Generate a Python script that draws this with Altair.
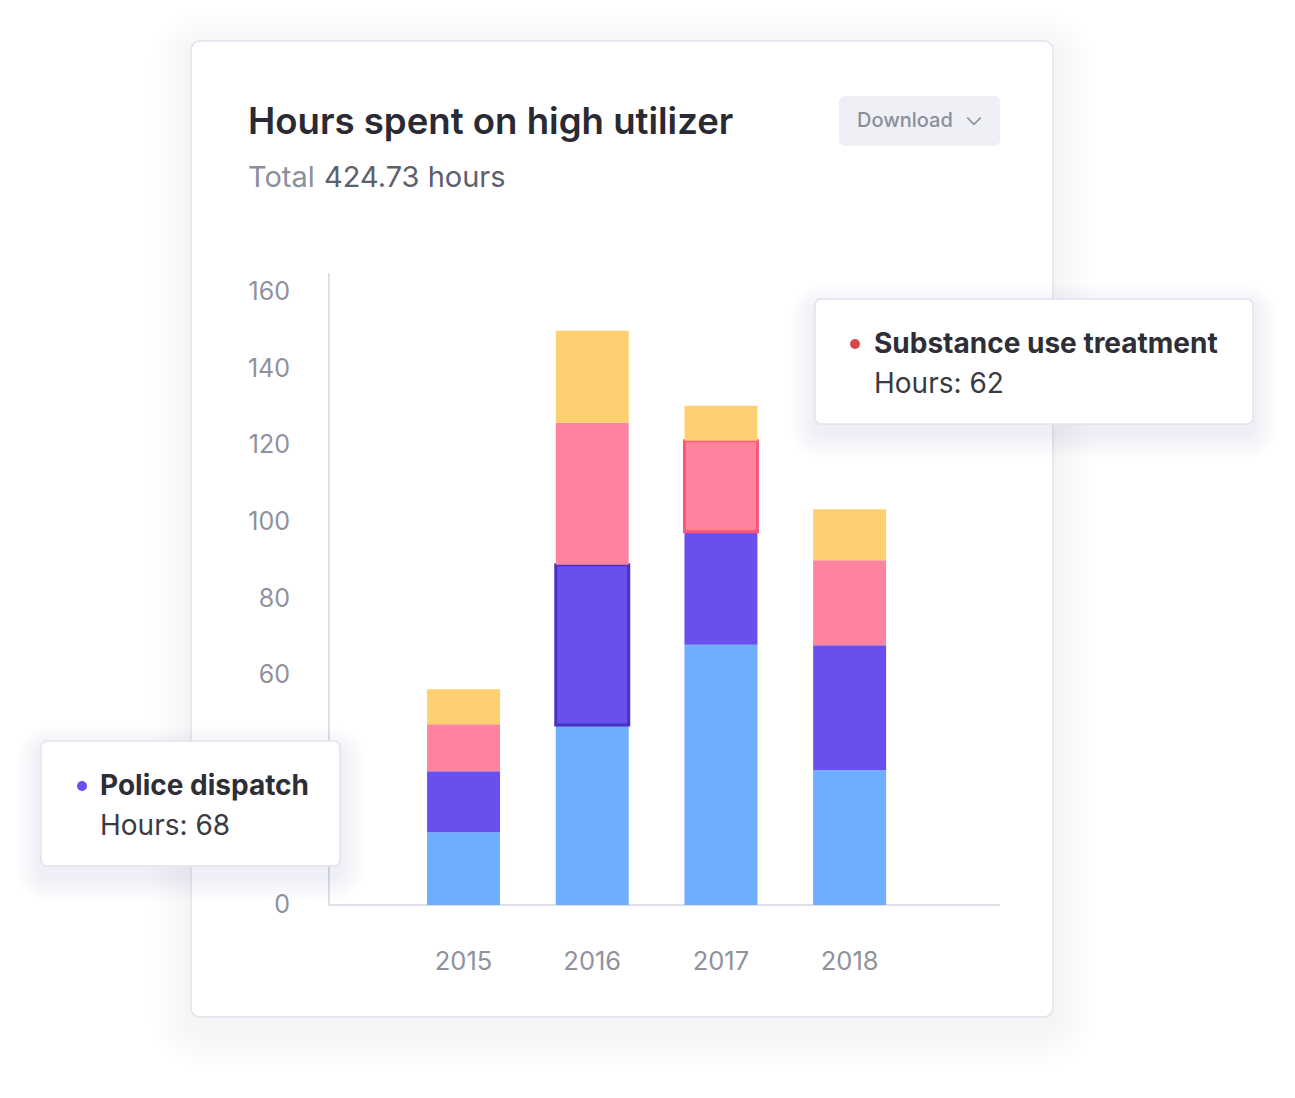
import altair as alt
import pandas as pd

# ---------------- data ----------------
years = ["2015", "2016", "2017", "2018"]
series = ["Emergency medical services", "Police dispatch",
          "Substance use treatment", "Mental health services"]
blue_vals = [19.0, 47.0, 67.9, 35.2]
purple_vals = [15.9, 41.8, 29.5, 32.6]
pink_vals = [12.3, 37.1, 23.8, 22.2]
yellow_vals = [9.1, 24.0, 9.1, 13.3]
highlighted = [("2016", "Police dispatch"), ("2017", "Substance use treatment")]
y_ticks = [0, 20, 40, 60, 80, 100, 120, 140, 160]

title_text = "Hours spent on high utilizer"
subtitle_label = "Total"
subtitle_value = "424.73 hours"
tip_left = ("Police dispatch", "Hours: 68")
tip_right = ("Substance use treatment", "Hours: 62")

# ---------------- styles ----------------
colors = ["#6EAEFE", "#684FEE", "#FF839F", "#FFD06F"]
hl_strokes = ["#4E8FE8", "#4633C4", "#FF5679", "#F2B544"]
FONT = "Inter"

rows = []
for vals, s in zip([blue_vals, purple_vals, pink_vals, yellow_vals], series):
    for y, v in zip(years, vals):
        rows.append({"year": y, "series": s, "hours": v,
                     "idx": series.index(s),
                     "hl": (y, s) in highlighted})
df = pd.DataFrame(rows)
ticks_df = pd.DataFrame({"tick": y_ticks, "label": [str(t) for t in y_ticks]})
years_df = pd.DataFrame({"year": years})

y_scale = alt.Scale(domain=[0, 160], range=[905, 292], nice=False, zero=True)
x_scale = alt.Scale(domain=years, range=[399.2, 914.0],
                    paddingInner=0.433, paddingOuter=0.2165)

one = alt.Data(values=[{"a": 1}])


def rect(x1, x2, y1, y2, fill, stroke=None, sw=0, radius=0, opacity=1.0):
    kw = dict(fill=fill, cornerRadius=radius, opacity=opacity)
    if stroke:
        kw.update(stroke=stroke, strokeWidth=sw)
    return alt.Chart(one).mark_rect(**kw).encode(
        x=alt.value(x1), x2=alt.value(x2), y=alt.value(y1), y2=alt.value(y2))


def text(t, x, y, size, color, weight=400, align="left", baseline="alphabetic"):
    return alt.Chart(one).mark_text(
        text=t, font=FONT, fontSize=size, fontWeight=weight, color=color,
        align=align, baseline=baseline).encode(x=alt.value(x), y=alt.value(y))


def shadow(x1, x2, y1, y2, radius, steps=8, spread=3, dy=8, alpha=0.010):
    layers = []
    for i in range(steps, 0, -1):
        e = i * spread
        layers.append(rect(x1 - e, x2 + e, y1 - e + dy, y2 + e + dy,
                           "#3C3C64", radius=radius + e, opacity=alpha))
    return layers


layers = []
# card
layers += shadow(191, 1053, 41, 1017, 9, steps=10, spread=4, dy=10, alpha=0.0028)
layers.append(rect(191, 1053, 41, 1017, "#FFFFFF", "#E3E1EE", 1.5, 9))

# header
layers.append(text(title_text, 248, 134, 36.6, "#2A2A33", 600))
layers.append(text(subtitle_label, 248, 187, 29, "#8C909B"))
layers.append(text(subtitle_value, 324, 187, 29, "#5C606D"))
layers.append(rect(839, 1000, 96, 146, "#EFF0F5", radius=6))
layers.append(text("Download", 857, 121, 20, "#8C8F9B", 500, baseline="middle"))
layers.append(alt.Chart(one).mark_point(
    shape="M-1,-0.5L0,0.5L1,-0.5", filled=False, size=180,
    stroke="#8C8F9B", strokeWidth=1.6, opacity=1).encode(
    x=alt.value(974), y=alt.value(121)))

# axis lines
layers.append(alt.Chart(one).mark_rule(color="#D3D4E0", strokeWidth=1.5).encode(
    x=alt.value(329), y=alt.value(273), y2=alt.value(905)))
layers.append(alt.Chart(one).mark_rule(color="#D3D4E0", strokeWidth=1.5).encode(
    x=alt.value(329), x2=alt.value(1000), y=alt.value(905)))

# tick labels through the scales
layers.append(alt.Chart(ticks_df).mark_text(
    font=FONT, fontSize=25, color="#8F929E", align="right", baseline="middle").encode(
    y=alt.Y("tick:Q", scale=y_scale, axis=None),
    x=alt.value(290), text="label:N"))
layers.append(alt.Chart(years_df).mark_text(
    font=FONT, fontSize=25.5, color="#8F929E", align="center", baseline="middle").encode(
    x=alt.X("year:N", scale=x_scale, axis=None),
    y=alt.value(962), text="year:N"))

# stacked bars
layers.append(alt.Chart(df).mark_bar().encode(
    x=alt.X("year:N", scale=x_scale, axis=None),
    y=alt.Y("hours:Q", stack="zero", scale=y_scale, axis=None),
    color=alt.Color("series:N", scale=alt.Scale(domain=series, range=colors), legend=None),
    stroke=alt.Stroke("series:N", scale=alt.Scale(domain=series, range=hl_strokes), legend=None),
    strokeWidth=alt.condition("datum.hl", alt.value(3), alt.value(0)),
    order=alt.Order("idx:Q", sort="ascending"),
))

# tooltip boxes
layers += shadow(41, 340, 741, 866, 6, steps=8, spread=3, dy=10, alpha=0.008)
layers.append(rect(41, 340, 741, 866, "#FFFFFF", "#E3E1EE", 1.5, 6))
layers.append(alt.Chart(one).mark_circle(color=colors[1], size=100, opacity=1).encode(
    x=alt.value(82), y=alt.value(786)))
layers.append(text(tip_left[0], 100, 795, 28, "#2E2E36", 700))
layers.append(text(tip_left[1], 100, 835, 28, "#3A3A42"))

layers += shadow(815, 1253, 299, 424, 6, steps=8, spread=3, dy=10, alpha=0.008)
layers.append(rect(815, 1253, 299, 424, "#FFFFFF", "#E3E1EE", 1.5, 6))
layers.append(alt.Chart(one).mark_circle(color="#D94848", size=100, opacity=1).encode(
    x=alt.value(855), y=alt.value(344)))
layers.append(text(tip_right[0], 874, 353, 28, "#2E2E36", 700))
layers.append(text(tip_right[1], 874, 393, 28, "#3A3A42"))

chart = alt.layer(*layers).properties(
    width=1295, height=1098,
    autosize=alt.AutoSizeParams(type="none"),
    padding=0, background="#FFFFFF",
).configure_view(stroke=None)

chart.save("out.html", embed_options={"renderer": "svg", "actions": False})
